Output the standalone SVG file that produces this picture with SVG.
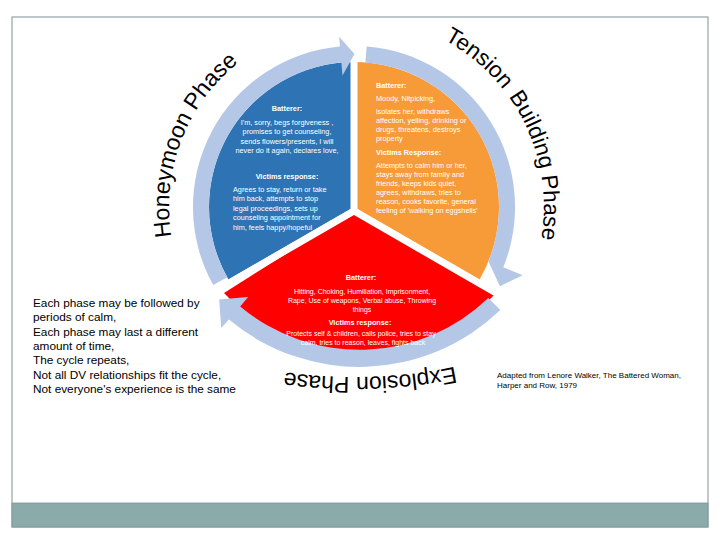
<svg xmlns="http://www.w3.org/2000/svg" width="720" height="540" viewBox="0 0 720 540">
<style>
.t{font-family:"Liberation Sans",Arial,sans-serif;fill:#fff;font-size:7.3px}
.s{font-size:7px}
.b{font-weight:bold}
.c{text-anchor:middle}
.title{font-family:"Liberation Sans",Arial,sans-serif;font-size:23px;fill:#000}
.note{font-family:"Liberation Sans",Arial,sans-serif;font-size:11.8px;fill:#000}
.cite{font-family:"Liberation Sans",Arial,sans-serif;font-size:8px;fill:#000}
.arrow{fill:#b4c7e7}
.gap{stroke:#fff;stroke-width:7;stroke-linecap:butt}
</style>
<defs>
<path id="pH" d="M180.2,270.3 A185,185 0 0 1 290.7,33.2"/>
<path id="pT" d="M387,19.9 A190,190 0 0 1 518.5,302"/>
<path id="pE" d="M508.5,352.5 A500,500 0 0 1 199.5,352.5"/>
</defs>
<rect x="0" y="0" width="720" height="540" fill="#fff"/>
<rect x="12" y="17" width="696" height="510" fill="#fff" stroke="#7f9292" stroke-width="1"/>
<rect x="12" y="503" width="696" height="24" fill="#8aabaa" stroke="#7a9696" stroke-width="0.8"/>

<g id="honeymoon">
<path d="M354,207 L228.4,279.5 A145,145 0 0 1 354,62 Z" fill="#2e74b5"/>
</g>
<g id="tension">
<path d="M354,207 L354,62 A145,145 0 0 1 479.6,279.5 Z" fill="#f79a38"/>
</g>
<g id="explosion">
<path d="M354,211 L496,293 A186,186 0 0 1 224,293 Z" fill="#fe0000"/>
</g>
<g id="gaps">
<line class="gap" x1="354" y1="211" x2="354" y2="58"/>
<line class="gap" x1="354" y1="211" x2="501.2" y2="296"/>
<line class="gap" x1="354" y1="211" x2="206.8" y2="296"/>
</g>

<g id="connectors">
<path id="arrow-tension" class="arrow" d="M366.6,46.5 A161,161 0 0 1 503.3,267.3 L522.7,275.2 L499.9,286.2 L488.4,261.3 A145,145 0 0 0 365.4,62.4 Z"/>
<path id="arrow-explosion" class="arrow" d="M500.3,310 A203,203 0 0 1 229,319.5 L221.2,328 L219.2,299.5 L248.1,297 L240.2,306.5 A186,186 0 0 0 488.3,298 Z"/>
<path id="arrow-honeymoon" class="arrow" d="M213.2,285.1 A161,161 0 0 1 340,46.6 L339.1,36.7 L354.5,54 L342.5,75.5 L341.4,62.6 A145,145 0 0 0 227.2,277.3 Z"/>
</g>

<g id="honeymoon-text">
<text class="t b c" x="287" y="111">Batterer:</text>
<text class="t c" x="287" y="124.5">I'm, sorry, begs forgiveness ,</text>
<text class="t c" x="287" y="134">promises to get counseling,</text>
<text class="t c" x="287" y="143.5">sends flowers/presents, I will</text>
<text class="t c" x="287" y="153">never do it again, declares love,</text>
<text class="t b c" x="287" y="179">Victims response:</text>
<text class="t" x="233" y="191.5">Agrees to stay, return or take</text>
<text class="t" x="233" y="201">him back, attempts to stop</text>
<text class="t" x="233" y="210.5">legal proceedings, sets up</text>
<text class="t" x="233" y="220">counseling appointment for</text>
<text class="t" x="233" y="229.5">him, feels happy/hopeful</text>
</g>

<g id="tension-text">
<text class="t b" x="376" y="87.5">Batterer:</text>
<text class="t" x="376" y="100.5">Moody, Nitpicking,</text>
<text class="t" x="376" y="113.5">isolates her, withdraws</text>
<text class="t" x="376" y="122.5">affection, yelling, drinking or</text>
<text class="t" x="376" y="131.5">drugs, threatens, destroys</text>
<text class="t" x="376" y="141">property</text>
<text class="t b" x="376" y="154.5">Victims Response:</text>
<text class="t" x="376" y="167.5">Attempts to calm him or her,</text>
<text class="t" x="376" y="176.5">stays away from family and</text>
<text class="t" x="376" y="185.5">friends, keeps kids quiet,</text>
<text class="t" x="376" y="194.5">agrees, withdraws, tries to</text>
<text class="t" x="376" y="204">reason,  cooks favorite, general</text>
<text class="t" x="376" y="213">feeling of 'walking on eggshells'</text>
</g>

<g id="explosion-text">
<text class="t b c" x="361" y="280">Batterer:</text>
<text class="t s c" x="362" y="293.5">Hitting, Choking, Humiliation, Imprisonment,</text>
<text class="t s c" x="362" y="303">Rape, Use of weapons, Verbal abuse, Throwing</text>
<text class="t s c" x="362" y="312">things</text>
<text class="t b c" x="360" y="325">Victims response:</text>
<text class="t s c" x="361" y="335.5">Protects self &amp; children, calls police, tries to stay</text>
<text class="t s c" x="363" y="345">calm, tries to reason, leaves, fights back</text>
</g>

<g id="titles">
<text class="title"><textPath href="#pH" startOffset="34.7">Honeymoon</textPath></text>
<text class="title"><textPath href="#pH" startOffset="165.1">Phase</textPath></text>
<text class="title" style="font-size:22.5px"><textPath href="#pT" startOffset="61">Tension</textPath></text>
<text class="title" style="font-size:22.5px"><textPath href="#pT" startOffset="147.3">Building</textPath></text>
<text class="title" style="font-size:22.5px"><textPath href="#pT" startOffset="233.6">Phase</textPath></text>
<text class="title"><textPath href="#pE" startOffset="55.4">Explosion</textPath></text>
<text class="title"><textPath href="#pE" startOffset="161.5">Phase</textPath></text>
</g>

<g id="notes">
<text class="note" x="33" y="307">Each phase may be followed by</text>
<text class="note" x="33" y="321.3">periods of calm,</text>
<text class="note" x="33" y="335.6">Each phase may last a different</text>
<text class="note" x="33" y="349.9">amount of time,</text>
<text class="note" x="33" y="364.2">The cycle repeats,</text>
<text class="note" x="33" y="378.5">Not all DV relationships fit the cycle,</text>
<text class="note" x="33" y="392.8">Not everyone's experience is the same</text>
</g>

<g id="citation">
<text class="cite" x="497" y="378">Adapted from Lenore Walker, The Battered Woman,</text>
<text class="cite" x="497" y="387.5">Harper and Row, 1979</text>
</g>
</svg>
